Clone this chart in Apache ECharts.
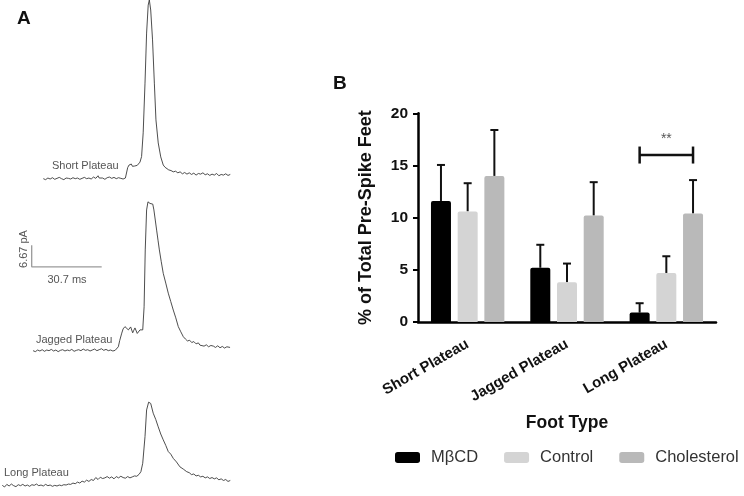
<!DOCTYPE html>
<html><head><meta charset="utf-8">
<script src="https://cdn.jsdelivr.net/npm/echarts/dist/echarts.min.js"></script>
<style>html,body{margin:0;padding:0;background:#fff}#c{width:744px;height:496px}</style>
</head><body><div id="c"></div>
<script>
// ---------- Panel B data ----------
const categories = ['Short Plateau', 'Jagged Plateau', 'Long Plateau'];
const seriesNames = ['MβCD', 'Control', 'Cholesterol'];
const meanMBCD = [11.6, 5.2, 0.9];
const meanControl = [10.6, 3.8, 4.7];
const meanChol = [14.0, 10.2, 10.4];
const semMBCD = [3.45, 2.2, 0.9];
const semControl = [2.7, 1.8, 1.6];
const semChol = [4.4, 3.2, 3.2];
const yTickValues = [0, 5, 10, 15, 20];
const sigCategory = 2;      // Long Plateau
const sigLevel = 16;        // bracket height (%)
const sigText = '**';

// ---------- Panel A traces: [time (ms), current (pA)] ----------
const traceShort = [[19,0.1],[20,-0.2],[21,0.3],[22,0.0],[23,0.4],[24,-0.1],[25,0.2],[26,0.5],[27,0.1],[28,-0.2],[29,0.3],[30,0.2],[31,0.0],[32,0.4],[33,0.1],[34,0.3],[35,-0.1],[36,0.2],[37,0.5],[38,0.1],[39,0.3],[40,0.0],[41,0.6],[42,0.2],[43,1.0],[43.5,0.3],[44,0.1],[45,0.3],[46,-0.1],[47,0.4],[48,0.6],[49,0.2],[50,0.5],[51,0.1],[52,0.4],[53,0.2],[54,0.0],[55,0.3],[55.8,0.1],[56.0,3.5],[56.6,4.3],[57.1,3.8],[57.6,4.6],[58.1,3.9],[58.6,4.4],[59.1,4.0],[59.6,4.5],[60.2,4.2],[60.8,4.8],[61.4,5.2],[62.1,6.9],[62.8,14.2],[63.6,29.5],[64.3,44.9],[65.0,53.5],[65.5,55.1],[66.1,52.0],[66.9,42.8],[67.7,29.5],[68.4,18.2],[69.4,11.1],[70.5,6.8],[71.6,4.3],[72.4,3.6],[73.1,3.3],[74,2.8],[75,2.6],[76,2.2],[77,2.4],[78,1.9],[79,2.2],[80,1.6],[81,2.0],[82,1.5],[83,1.9],[84,1.4],[85,1.8],[86,1.2],[87,1.7],[88,1.5],[89,1.9],[90,1.3],[91,1.6],[92,1.1],[93,1.5],[94,1.2],[95,1.7],[96,1.0],[97,1.4],[98,1.2],[99,1.6],[100,1.1],[101,1.4]];
const traceJagged = [[14.5,0.1],[15.5,-0.2],[16.5,0.3],[17.5,0.0],[18.5,0.4],[19.5,-0.1],[20.5,0.3],[21.5,0.1],[22.5,0.5],[23.5,0.0],[24.5,0.3],[25.5,-0.2],[26.5,0.2],[27.5,0.4],[28.5,0.0],[29.5,0.3],[30.5,0.1],[31.5,0.5],[32.5,-0.1],[33.5,0.2],[34.5,0.4],[35.5,0.1],[36.5,0.6],[37.5,0.2],[38.5,0.4],[39.5,0.0],[40.5,0.3],[41.5,0.6],[42.5,0.1],[43.5,0.4],[44.5,0.7],[45.5,0.2],[46.5,0.5],[47.5,0.1],[48.5,0.3],[49.5,0.0],[50.5,0.2],[51.2,0.1],[51.9,1.3],[52.5,3.2],[53.4,5.5],[54.0,6.8],[54.8,7.5],[55.6,7.7],[56.3,6.5],[56.8,7.0],[57.3,7.4],[58.2,5.6],[58.7,6.4],[59.2,7.1],[60.2,5.4],[60.8,6.0],[61.4,6.5],[62.0,5.9],[62.6,6.5],[63.2,13.6],[63.7,31.1],[64.3,43.4],[64.9,45.9],[65.4,45.6],[65.8,45.4],[66.4,45.6],[67.0,45.2],[67.5,43.4],[68.1,40.3],[68.7,37.2],[69.3,34.1],[69.9,31.1],[70.7,27.6],[71.6,23.9],[72.7,20.9],[73.8,17.8],[74.9,15.2],[76.0,12.6],[77.1,10.2],[78.2,7.5],[79.3,5.9],[80.4,4.4],[81.3,3.7],[82.2,3.1],[83.2,3.3],[84.1,2.6],[85,2.9],[86,2.2],[87,2.5],[87.7,1.8],[88.5,2.2],[89.5,1.5],[90.5,1.9],[91.5,1.3],[92.5,1.7],[93.6,1.5],[94.5,1.1],[95.5,1.6],[96.5,1.0],[97.5,1.4],[98.5,0.9],[99.5,1.3],[100.9,1.1]];
const traceLong = [[1,0.2],[2,-0.3],[3,0.5],[4,0.0],[5,0.6],[6,0.1],[7,-0.2],[8,0.4],[9,0.1],[10,0.5],[11,0.0],[12,0.3],[13,-0.1],[14,0.4],[15,0.2],[16,0.6],[17,0.1],[18,0.3],[19,0.0],[20,0.5],[21,0.1],[22,0.3],[23,-0.1],[24,0.2],[25,0.0],[26,0.3],[27,0.1],[28,0.4],[29,0.3],[30,0.6],[31,0.5],[32,0.9],[33,0.7],[34,1.2],[35,0.9],[36,1.5],[37,1.2],[38,1.8],[39,1.4],[40,2.0],[41,1.7],[42,2.6],[43,2.0],[44,2.7],[45,2.3],[46,2.5],[47,2.9],[48,2.4],[49,2.8],[50,2.2],[51,2.9],[52,2.5],[53,3.0],[54,2.6],[55,2.4],[56,2.9],[57,2.5],[58,2.8],[59,3.1],[60,3.0],[61,3.6],[61.8,4.4],[62.6,7.0],[63.6,15.2],[64.3,23.4],[65.2,25.8],[66.1,25.4],[67.2,22.4],[68.3,20.5],[69.4,18.2],[70.5,16.0],[71.6,14.2],[72.7,12.5],[73.8,10.6],[74.9,9.8],[76.0,8.5],[77.4,7.4],[78.9,5.9],[80.4,5.2],[81.9,4.4],[83,4.1],[84,3.5],[85,3.7],[86,3.1],[87,3.3],[88,2.8],[89,3.0],[90,2.5],[91,2.8],[92,2.3],[93,2.6],[94,2.2],[95,2.5],[96,1.9],[97,2.2],[98,1.7],[99,2.0],[100,1.4],[101,1.7]];
const traceLabels = ['Short Plateau', 'Jagged Plateau', 'Long Plateau'];
const scaleBarOrigin = [13.9, 25.9];   // ms, pA (in Jagged trace frame)
const scaleBarSize = [30.7, 6.67];     // ms, pA
const scaleBarLabels = ['30.7 ms', '6.67 pA'];

// ---------- layout constants ----------
const PX_PER_MS = 2.28, PX_PER_PA = 3.25;
const traceBaselinePx = [179, 351, 486];
const PA_MIN = -3, PA_MAX = 55;
const BAR_W = 20, BAR_GAP = 6.7;
const colors = ['#000000', '#d4d4d4', '#b9b9b9'];
const FONT = 'Liberation Sans, Arial, sans-serif';

const chart = echarts.init(document.getElementById('c'));

const grids = [], xAxes = [], yAxes = [], series = [];
[traceShort, traceJagged, traceLong].forEach((tr, i) => {
  grids.push({left: 0, width: 250, top: traceBaselinePx[i] - PA_MAX * PX_PER_PA, height: (PA_MAX - PA_MIN) * PX_PER_PA,
    outerBoundsMode: 'none', containLabel: false});
  xAxes.push({type: 'value', gridIndex: i, min: 0, max: 250 / PX_PER_MS, show: false});
  yAxes.push({type: 'value', gridIndex: i, min: PA_MIN, max: PA_MAX, show: false});
  series.push({type: 'line', xAxisIndex: i, yAxisIndex: i, data: tr, showSymbol: false, clip: false,
    lineStyle: {color: '#3a3a3a', width: 0.9}, silent: true});
});
// scale bar in jagged trace frame
series.push({type: 'line', xAxisIndex: 1, yAxisIndex: 1, showSymbol: false, clip: false, silent: true,
  data: [[scaleBarOrigin[0], scaleBarOrigin[1] + scaleBarSize[1]], [scaleBarOrigin[0], scaleBarOrigin[1]], [scaleBarOrigin[0] + scaleBarSize[0], scaleBarOrigin[1]]],
  lineStyle: {color: '#9a9a9a', width: 1.3}});

// Panel B grid
grids.push({left: 418, right: 28, top: 113.3, bottom: 174, outerBoundsMode: 'none', containLabel: false});
xAxes.push({type: 'category', gridIndex: 3, data: categories,
  axisLine: {lineStyle: {color: '#000', width: 2.5}},
  axisTick: {alignWithLabel: true, length: 5, lineStyle: {color: '#000', width: 2}},
  axisLabel: {rotate: 30, margin: 21, fontSize: 15, fontWeight: 'bold', color: '#111', fontFamily: FONT},
  name: 'Foot Type', nameLocation: 'middle', nameGap: 92,
  nameTextStyle: {fontSize: 17.5, fontWeight: 'bold', color: '#111', fontFamily: FONT}});
yAxes.push({type: 'value', gridIndex: 3, min: yTickValues[0], max: yTickValues[yTickValues.length - 1], interval: yTickValues[1] - yTickValues[0],
  axisLine: {show: true, lineStyle: {color: '#000', width: 2.5}},
  axisTick: {show: true, length: 5, lineStyle: {color: '#000', width: 2}},
  splitLine: {show: false},
  axisLabel: {margin: 10, fontSize: 15.5, fontWeight: 'bold', color: '#111', fontFamily: FONT},
  name: '% of Total Pre-Spike Feet', nameLocation: 'middle', nameGap: 43,
  nameTextStyle: {fontSize: 18, fontWeight: 'bold', color: '#111', fontFamily: FONT}});

const means = [meanMBCD, meanControl, meanChol];
const sems = [semMBCD, semControl, semChol];
means.forEach((m, k) => {
  series.push({type: 'bar', name: seriesNames[k], xAxisIndex: 3, yAxisIndex: 3, data: m,
    barWidth: BAR_W, barGap: (BAR_GAP / BAR_W * 100) + '%', z: 3,
    itemStyle: {color: colors[k], borderRadius: [2, 2, 0, 0]}});
});
means.forEach((m, k) => {
  series.push({type: 'custom', xAxisIndex: 3, yAxisIndex: 3, z: 2, silent: true,
    data: m.map((v, i) => [i, v, v + sems[k][i]]),
    renderItem(params, api) {
      const p0 = api.coord([api.value(0), api.value(1)]);
      const p1 = api.coord([api.value(0), api.value(2)]);
      const x = p0[0] + (k - 1) * (BAR_W + BAR_GAP);
      return {type: 'group', children: [
        {type: 'line', shape: {x1: x, y1: p0[1], x2: x, y2: p1[1]}, style: {stroke: '#111', lineWidth: 2}},
        {type: 'line', shape: {x1: x - 4, y1: p1[1], x2: x + 4, y2: p1[1]}, style: {stroke: '#111', lineWidth: 2}}
      ]};
    }});
});
// significance bracket
series.push({type: 'custom', xAxisIndex: 3, yAxisIndex: 3, z: 4, silent: true,
  data: [[sigCategory, sigLevel]],
  renderItem(params, api) {
    const p = api.coord([api.value(0), api.value(1)]);
    const off = BAR_W + BAR_GAP;
    const xl = p[0] - off, xr = p[0] + off;
    return {type: 'group', children: [
      {type: 'line', shape: {x1: xl, y1: p[1], x2: xr, y2: p[1]}, style: {stroke: '#111', lineWidth: 2.5}},
      {type: 'line', shape: {x1: xl, y1: p[1] - 8.5, x2: xl, y2: p[1] + 8.5}, style: {stroke: '#111', lineWidth: 2.5}},
      {type: 'line', shape: {x1: xr, y1: p[1] - 8.5, x2: xr, y2: p[1] + 8.5}, style: {stroke: '#111', lineWidth: 2.5}},
      {type: 'text', x: p[0], y: p[1] - 9, style: {text: sigText, align: 'center', verticalAlign: 'bottom', fill: '#555', font: '14px ' + FONT}}
    ]};
  }});

const lblStyle = {fill: '#555', font: '11px ' + FONT};
const option = {
  animation: false,
  textStyle: {fontFamily: FONT},
  grid: grids, xAxis: xAxes, yAxis: yAxes, series: series,
  legend: {data: seriesNames, left: 395, top: 449, width: 700, padding: 0, itemWidth: 25, itemHeight: 11, itemGap: 26, icon: 'roundRect',
    textStyle: {fontSize: 16.5, color: '#333', fontFamily: FONT, padding: [0, 0, 0, 6]}},
  graphic: [
    {type: 'text', left: 17, top: 9, style: {text: 'A', font: 'bold 19px ' + FONT, fill: '#111'}},
    {type: 'text', left: 333, top: 74, style: {text: 'B', font: 'bold 19px ' + FONT, fill: '#111'}},
    {type: 'text', x: 52, y: 166, style: {text: traceLabels[0], verticalAlign: 'middle', ...lblStyle}},
    {type: 'text', x: 36, y: 340, style: {text: traceLabels[1], verticalAlign: 'middle', ...lblStyle}},
    {type: 'text', x: 4, y: 473, style: {text: traceLabels[2], verticalAlign: 'middle', ...lblStyle}},
    {type: 'text', x: 67, y: 280, style: {text: scaleBarLabels[0], align: 'center', verticalAlign: 'middle', ...lblStyle}},
    {type: 'text', x: 24, y: 249, rotation: Math.PI / 2, style: {text: scaleBarLabels[1], align: 'center', verticalAlign: 'middle', ...lblStyle}}
  ]
};
chart.setOption(option);
</script></body></html>
